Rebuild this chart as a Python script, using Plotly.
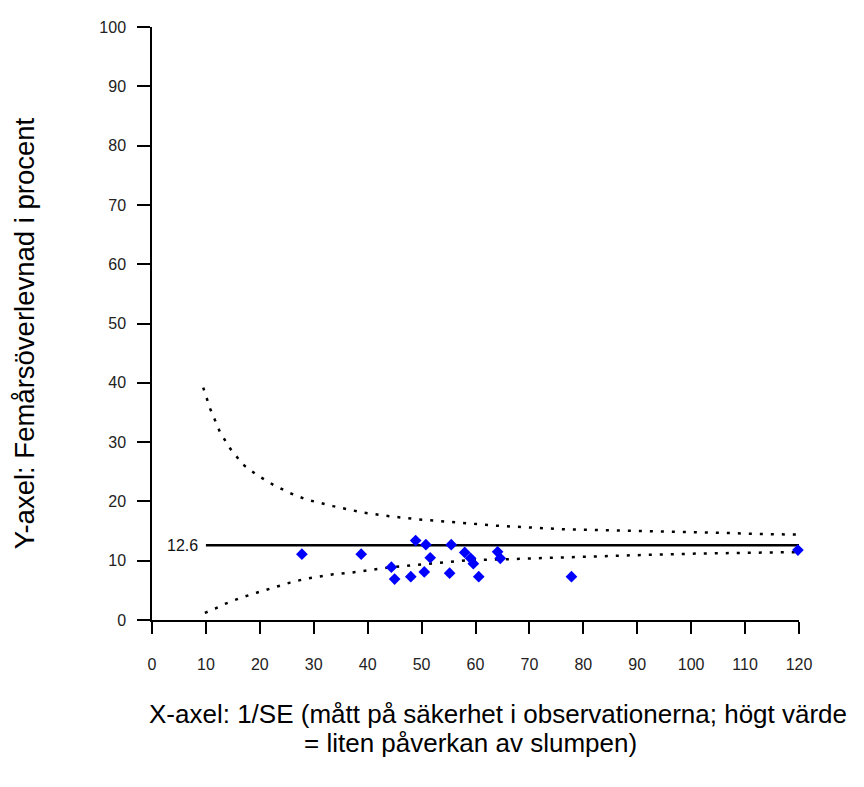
import plotly.graph_objects as go

# Observations (x = 1/SE, y = five-year survival %)
obs_x = [27.8, 38.8, 44.4, 45.0, 48.0, 48.9, 50.5, 50.8, 51.6, 55.2, 55.5, 58.0, 59.1, 59.6, 60.6, 64.1, 64.6, 77.8, 119.8]
obs_y = [11.1, 11.1, 8.9, 6.9, 7.3, 13.4, 8.1, 12.7, 10.5, 7.9, 12.7, 11.4, 10.4, 9.5, 7.3, 11.5, 10.4, 7.3, 11.8]

# Pooled estimate line
mean_value = 12.6
mean_x = [10, 120]
mean_y = [mean_value, mean_value]

# Funnel limits
upper_x = [9.5, 10.8, 12.6, 14.5, 16.9, 19.4, 22.5, 25.6, 28.7, 33.6, 39.2, 44.0, 49.1, 59.0, 63.9, 76.3, 88.7, 101.1, 113.4, 119.6]
upper_y = [39.2, 35.6, 31.7, 28.9, 26.2, 24.5, 22.8, 21.4, 20.3, 19.2, 18.1, 17.5, 17.0, 16.2, 15.9, 15.3, 15.1, 14.8, 14.5, 14.4]
lower_x = [9.8, 11.7, 13.2, 16.3, 19.4, 22.5, 25.6, 28.7, 33.6, 38.0, 44.2, 50.3, 59.0, 63.9, 76.3, 88.7, 101.0, 113.4, 119.6]
lower_y = [1.2, 1.9, 2.6, 3.7, 4.6, 5.5, 6.3, 7.0, 7.7, 8.1, 8.9, 9.4, 10.1, 10.2, 10.6, 10.9, 11.2, 11.35, 11.45]

x_ticks = list(range(0, 121, 10))
y_ticks = list(range(0, 101, 10))

FONT = "Liberation Sans, Arial, sans-serif"

fig = go.Figure()
fig.add_trace(go.Scatter(x=upper_x, y=upper_y, mode="lines",
                         line=dict(color="black", width=2.5, dash="3px,8px"),
                         hoverinfo="skip", cliponaxis=False))
fig.add_trace(go.Scatter(x=lower_x, y=lower_y, mode="lines",
                         line=dict(color="black", width=2.5, dash="3px,8px"),
                         hoverinfo="skip", cliponaxis=False))
fig.add_trace(go.Scatter(x=mean_x, y=mean_y, mode="lines",
                         line=dict(color="black", width=2.5), cliponaxis=False))
fig.add_trace(go.Scatter(x=obs_x, y=obs_y, mode="markers",
                         marker=dict(symbol="diamond", size=9, color="#0000FF"),
                         cliponaxis=False))

fig.add_annotation(x=mean_x[0], y=mean_value, xref="x", yref="y", text=str(mean_value),
                   showarrow=False, xanchor="right", xshift=-6,
                   font=dict(family=FONT, size=16, color="#111"))

fig.add_annotation(x=(147 - 152) / 647, y=(620.5 - 716) / 601, xref="paper", yref="paper",
                   text="X-axel: 1/SE (mått på säkerhet i observationerna; högt värde",
                   showarrow=False, xanchor="left", yanchor="middle",
                   font=dict(family=FONT, size=26, color="black"))
fig.add_annotation(x=(302 - 152) / 647, y=(620.5 - 745) / 601, xref="paper", yref="paper",
                   text="= liten påverkan av slumpen)",
                   showarrow=False, xanchor="left", yanchor="middle",
                   font=dict(family=FONT, size=26, color="black"))
fig.add_annotation(x=(24 - 152) / 647, y=(620.5 - 330) / 601, xref="paper", yref="paper",
                   text="Y-axel: Femårsöverlevnad i procent", textangle=-90,
                   showarrow=False, xanchor="center", yanchor="middle",
                   font=dict(family=FONT, size=27.5, color="black"))

# page body has an 8px margin: figure is sized/offset so the plot area lands on the reference pixels
fig.update_layout(
    width=848, height=771,
    margin=dict(l=144, r=57, t=11, b=159),
    paper_bgcolor="white", plot_bgcolor="white",
    showlegend=False,
    font=dict(family=FONT, size=16, color="#222"),
    xaxis=dict(range=[0, 120], tickvals=x_ticks, ticks="outside", ticklen=12,
               tickcolor="black", tickwidth=1.5, showline=True, linecolor="black",
               linewidth=1.5, showgrid=False, zeroline=False, ticklabelstandoff=17,
               tickfont=dict(family=FONT, size=16, color="#222")),
    yaxis=dict(range=[0, 100], tickvals=y_ticks, ticks="outside", ticklen=13,
               tickcolor="black", tickwidth=1.5, showline=True, linecolor="black",
               linewidth=1.5, showgrid=False, zeroline=False, ticklabelstandoff=8,
               tickfont=dict(family=FONT, size=16, color="#222")),
)

fig.write_html("out.html")
